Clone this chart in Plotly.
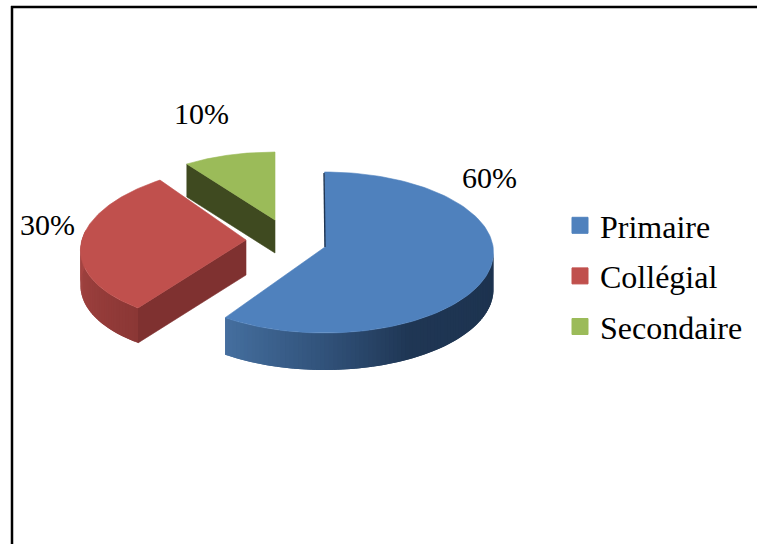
import math
import plotly.graph_objects as go

# Survey shares by level of education
categories = ["Primaire", "Collégial", "Secondaire"]
shares = [60, 30, 10]

top_colors = ["#4F81BD", "#C0504D", "#9BBB59"]
cut_colors = ["#1F3552", "#7F3130", "#3F4A20"]

# Projection of each exploded wedge on the page (pixels, y downward)
wedges = [
    dict(cx=324.5, cy=252.5, rx=169, ry=80.5, skew=0.0, apex=(325, 247), depth=37),
    dict(cx=246, cy=244, rx=165, ry=79, skew=-0.172, apex=(246, 240), depth=35),
    dict(cx=275, cy=215, rx=150, ry=63, skew=0.0, apex=(275, 220), depth=33),
]
label_positions = [(489, 177), (47, 224), (201, 113)]

# Shading of the curved outer wall: (angle in degrees, colour)
wall_shades = [
    [(90, "#1C324E"), (150, "#1F3654"), (180, "#31527A"), (216, "#456F9F")],
    [(216, "#8B3735"), (280, "#A84644")],
    [],
]

WIDTH, HEIGHT = 757, 544


def rim_point(w, deg):
    t = math.radians(deg)
    y = w["cy"] - w["ry"] * math.cos(t)
    x = w["cx"] + w["rx"] * math.sin(t) + w["skew"] * (y - w["cy"])
    return x, y


def frange(a, b, n):
    return [a + (b - a) * i / n for i in range(n + 1)]


def shade_at(stops, deg):
    for (a0, c0), (a1, c1) in zip(stops, stops[1:]):
        if a0 <= deg <= a1:
            f = (deg - a0) / (a1 - a0)
            rgb0 = [int(c0[i:i + 2], 16) for i in (1, 3, 5)]
            rgb1 = [int(c1[i:i + 2], 16) for i in (1, 3, 5)]
            mix = [round(p + (q - p) * f) for p, q in zip(rgb0, rgb1)]
            return f"rgb({mix[0]},{mix[1]},{mix[2]})"
    return stops[-1][1]


def polygon(xs, ys, color, line=0.6):
    return go.Scatter(
        x=xs, y=ys, mode="lines", fill="toself", fillcolor=color,
        line=dict(color=color, width=line), showlegend=False, hoverinfo="skip",
    )


fig = go.Figure()
total = sum(shares)
start = 0.0
spans = []
for v in shares:
    sweep = 360.0 * v / total
    spans.append((start, start + sweep))
    start += sweep

# Back-to-front drawing order: green, red, blue
for i in (2, 1, 0):
    w, (a0, a1) = wedges[i], spans[i]
    d = w["depth"]
    ax, ay = w["apex"]

    # Flat cut faces that turn towards the viewer
    if i in (1, 2):
        px, py = rim_point(w, a0)
        fig.add_trace(polygon([ax, px, px, ax, ax], [ay, py, py + d, ay + d, ay], cut_colors[i]))

    # Curved outer wall: each strip overlaps its neighbour so no seams show
    stops = wall_shades[i]
    if stops:
        lo, hi = max(a0, stops[0][0]), min(a1, stops[-1][0])
        n = int((hi - lo) / 1.5)
        angles = frange(lo, hi, n)
        for k in range(n):
            b0, b1 = angles[k], angles[min(k + 2, n)]
            arc = [rim_point(w, b) for b in frange(b0, b1, 3)]
            xs = [p[0] for p in arc] + [p[0] for p in reversed(arc)]
            ys = [p[1] for p in arc] + [p[1] + d for p in reversed(arc)]
            fig.add_trace(polygon(
                xs + xs[:1], ys + ys[:1],
                shade_at(stops, (angles[k] + angles[k + 1]) / 2), line=0,
            ))

    # Upper face of the wedge
    arc = [rim_point(w, b) for b in frange(a0, a1, 120)]
    xs = [ax] + [p[0] for p in arc] + [ax]
    ys = [ay] + [p[1] for p in arc] + [ay]
    fig.add_trace(polygon(xs, ys, top_colors[i]))

    # Thin sliver of the inner cut face on the large wedge
    if i == 0:
        px, py = rim_point(w, a0)
        fig.add_trace(go.Scatter(
            x=[px - 0.5, ax], y=[py + 1, ay], mode="lines",
            line=dict(color=cut_colors[0], width=1.4),
            showlegend=False, hoverinfo="skip",
        ))

# Legend entries
for i, name in enumerate(categories):
    fig.add_trace(go.Scatter(
        x=[None], y=[None], mode="markers", name=name, legendgroup=name,
        marker=dict(symbol="square", size=16, color=top_colors[i],
                    line=dict(color=top_colors[i], width=1)),
    ))

for v, (lx, ly) in zip(shares, label_positions):
    fig.add_annotation(
        x=lx, y=ly, xref="x", yref="y", text=f"{v}%", showarrow=False,
        font=dict(family="Liberation Serif", size=30, color="black"),
    )

# Page frame that runs off the right and bottom edges
frame = dict(color="black", width=2.5)
fig.add_shape(type="line", x0=12, x1=12, y0=6, y1=HEIGHT, xref="x", yref="y", line=frame)
fig.add_shape(type="line", x0=11, x1=WIDTH, y0=7, y1=7, xref="x", yref="y", line=frame)

fig.update_layout(
    width=WIDTH, height=HEIGHT, margin=dict(l=0, r=0, t=0, b=0),
    paper_bgcolor="white", plot_bgcolor="white",
    xaxis=dict(range=[0, WIDTH], visible=False, fixedrange=True),
    yaxis=dict(range=[HEIGHT, 0], visible=False, fixedrange=True),
    font=dict(family="Liberation Serif", color="black"),
    legend=dict(
        x=560 / WIDTH, y=1 - 198 / HEIGHT, xanchor="left", yanchor="top",
        font=dict(size=32), tracegroupgap=6, bgcolor="rgba(0,0,0,0)",
        itemclick=False, itemdoubleclick=False,
    ),
)

fig.write_html("out.html")
